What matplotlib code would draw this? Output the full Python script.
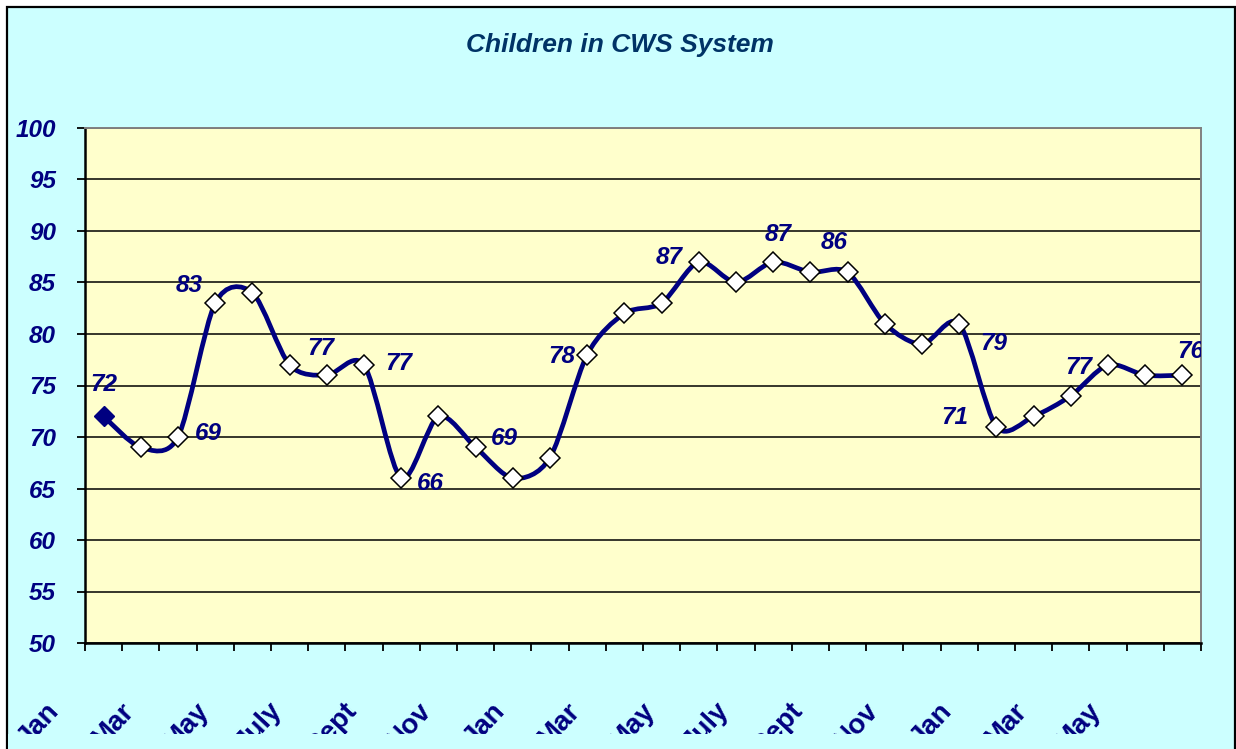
import numpy as np
import matplotlib
matplotlib.use('Agg')
import matplotlib.pyplot as plt
from matplotlib.path import Path
from matplotlib.patches import PathPatch, Rectangle

months = ['Jan', 'Mar', 'May', 'July', 'Sept', 'Nov', 'Jan', 'Mar', 'May',
          'July', 'Sept', 'Nov', 'Jan', 'Mar', 'May']
children = [72, 69, 70, 83, 84, 77, 76, 77, 66, 72, 69, 66, 68, 78, 82,
            83, 87, 85, 87, 86, 86, 81, 79, 81, 71, 72, 74, 77, 76, 76]
# data labels: which point, and the text shown
label_idx = [0, 2, 3, 6, 7, 8, 10, 13, 16, 18, 20, 23, 24, 27, 29]
label_txt = ['72', '69', '83', '77', '77', '66', '69', '78', '87', '87',
             '86', '79', '71', '77', '76']
# label offsets in pixels from the point (dx, dy)
label_off = [(0, 32), (30, 4), (-26, 18), (-6, 27), (35, 1), (29, -5),
             (29, 9), (-25, -2), (-30, 4), (5, 27), (-13, 30), (35, -20),
             (-42, 9), (-29, -3), (8, 24)]

navy = '#000080'
plt.rcParams['font.family'] = ['Liberation Sans', 'DejaVu Sans']

fig = plt.figure(figsize=(12.36, 7.49), dpi=100)
fig.patch.set_facecolor('white')
W, H = 1236., 749.

# chart frame
fig.add_artist(Rectangle((7/W, -0.05), 1227.5/W, 1.05 - 7/H,
                         transform=fig.transFigure, facecolor='#CCFFFF',
                         edgecolor='black', lw=1.6, zorder=-1))

ax = fig.add_axes([85/W, 1-643/H, (1201-85)/W, (643-128)/H])
ax.set_facecolor('#FFFFCC')

n = len(children)
x = np.arange(n)
pts = np.column_stack([x, children]).astype(float)

# smoothed line (bezier through the points, like Excel's smoothed line)
verts = [pts[0]]
codes = [Path.MOVETO]
for i in range(n-1):
    p0 = pts[max(i-1, 0)]
    p1 = pts[i]
    p2 = pts[i+1]
    p3 = pts[min(i+2, n-1)]
    verts += [p1 + (p2-p0)/7, p2 - (p3-p1)/7, p2]
    codes += [Path.CURVE4]*3
ax.add_patch(PathPatch(Path(verts, codes), facecolor='none', edgecolor=navy,
                       lw=3.4, zorder=3, capstyle='round', joinstyle='round'))

ax.plot(x[1:], children[1:], ls='none', marker='D', markersize=10.5,
        markerfacecolor='white', markeredgecolor='black', markeredgewidth=1.1,
        zorder=4)
ax.plot(x[:1], children[:1], ls='none', marker='D', markersize=10.5,
        markerfacecolor=navy, markeredgecolor=navy, zorder=4)

for i, t, (dx, dy) in zip(label_idx, label_txt, label_off):
    ax.annotate(t, (x[i], children[i]), xytext=(dx, dy),
                textcoords='offset pixels', ha='center', va='center',
                fontsize=17.5, fontweight='bold', fontstyle='italic',
                color=navy, clip_on=True, zorder=5)

ax.set_xlim(-0.5, n-0.5)
ax.set_ylim(50, 100)
ax.set_yticks(np.arange(50, 101, 5))
ax.yaxis.grid(True, color='black', lw=1.1)
ax.set_axisbelow(True)
ax.set_xticks(np.arange(-0.5, n, 1))
ax.set_xticklabels([])
ax.tick_params(axis='both', direction='out', length=5.8, width=1.3,
               color='black')
ax.tick_params(axis='y', pad=15)
for lab in ax.get_yticklabels():
    lab.set_fontsize(17.5)
    lab.set_fontweight('bold')
    lab.set_fontstyle('italic')
    lab.set_color(navy)

for sp in ['left', 'bottom']:
    ax.spines[sp].set_color('black')
    ax.spines[sp].set_linewidth(1.8)
for sp in ['top', 'right']:
    ax.spines[sp].set_color('#808080')
    ax.spines[sp].set_linewidth(1.4)

# month labels, every second category
for k, m in enumerate(months):
    ax.annotate(m, (2*k, 0), xycoords=('data', 'axes fraction'),
                xytext=(-58, -55), textcoords='offset pixels',
                ha='right', va='top', rotation=47, rotation_mode='anchor',
                fontsize=20, fontweight='bold', color=navy,
                annotation_clip=False)

# labels are cut off at the bottom of the chart
fig.add_artist(Rectangle((8/W, 0), 1225/W, 15/H, transform=fig.transFigure,
                         facecolor='#CCFFFF', edgecolor='none', zorder=10))

fig.text(620/W, 1-45/H, 'Children in CWS System', ha='center', va='center',
         fontsize=19, fontweight='bold', fontstyle='italic',
         color='#003366')

fig.savefig('out.png', dpi=100, facecolor=fig.get_facecolor())
